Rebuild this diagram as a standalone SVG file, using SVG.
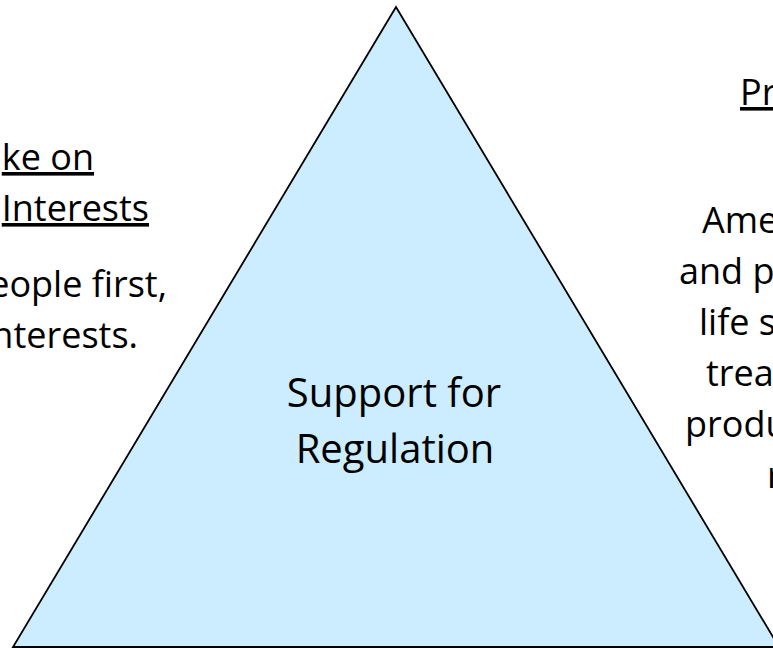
<svg xmlns="http://www.w3.org/2000/svg" width="773" height="648" viewBox="0 0 773 648">
  <style>
    .t { font-family: "Open Sans", "Liberation Sans", sans-serif; fill: #000; }
    .side { font-size: 36px; }
    .center { font-size: 40px; text-anchor: middle; }
    .l { text-anchor: end; }
    .u { text-decoration: underline; }
  </style>
  <rect width="773" height="648" fill="#ffffff"/>
  <g id="triangle">
    <polygon points="396,7 13,647 779,647" fill="#CCECFF" stroke="#000" stroke-width="1.8" stroke-linejoin="miter"/>
    <text class="t center" x="394" y="407">Support for</text>
    <text class="t center" x="395" y="463">Regulation</text>
  </g>
  <g id="left-text">
    <text class="t side l u" x="94" y="170">ke on</text>
    <text class="t side l u" x="149" y="221">Interests</text>
    <text class="t side l" x="167" y="297">eople first,</text>
    <text class="t side l" x="138" y="348">nterests.</text>
  </g>
  <g id="right-text">
    <text class="t side u" x="740" y="105">Pr</text>
    <text class="t side" x="702" y="233">Ame</text>
    <text class="t side" x="679" y="284">and p</text>
    <text class="t side" x="699" y="335">life s</text>
    <text class="t side" x="706" y="386">trea</text>
    <text class="t side" x="685" y="437">produ</text>
    <text class="t side" x="767" y="488">r</text>
  </g>
</svg>
